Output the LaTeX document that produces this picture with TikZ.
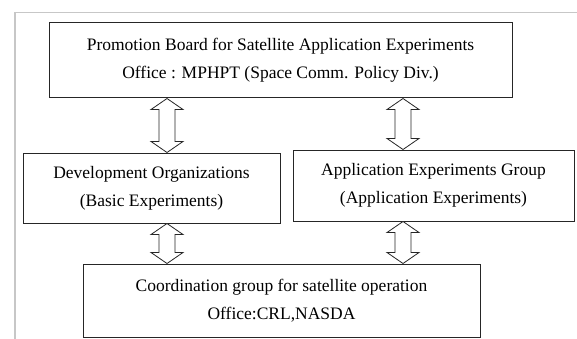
\documentclass[tikz,border=0pt]{standalone}
\usepackage{fontspec}
\setmainfont{Liberation Serif}
\usetikzlibrary{calc}

\tikzset{
  box/.style={draw=black!85, line width=1pt, align=center, inner sep=0pt,
    font=\fontsize{17.5}{28}\selectfont},
  blockarrow/.style={draw=black!85, line width=0.8pt, fill=white, line join=miter},
  frameline/.style={draw=black!22, line width=1.6pt}
}

% hollow double-headed block arrow between two named points on a common vertical
\newcommand\twowayarrow[2]{%
  \path[blockarrow] let \p1=(#1), \p2=(#2) in
    (\x1,\y1) -- (\x1+16pt,\y1-11pt) -- (\x1+8pt,\y1-11pt)
    -- (\x1+8pt,\y2+11pt) -- (\x1+16pt,\y2+11pt) -- (\x1,\y2)
    -- (\x1-16pt,\y2+11pt) -- (\x1-8pt,\y2+11pt)
    -- (\x1-8pt,\y1-11pt) -- (\x1-16pt,\y1-11pt) -- cycle;}

\begin{document}
\begin{tikzpicture}[x=1pt,y=-1pt]
  \useasboundingbox (0,0) rectangle (577,339);

  % outer page frame, partly visible
  \path[frameline] (577,12.5) -- (15,12.5) -- (15,339);

  \node[box, minimum width=463pt, minimum height=75pt] (board) at (280.5,60.5)
    {Promotion Board for Satellite Application Experiments\\
     Office : MPHPT (Space Comm. Policy Div.)};

  \node[box, minimum width=257pt, minimum height=70pt] (devorg) at (151.5,188)
    {Development Organizations\\(Basic Experiments)};

  \node[box, minimum width=281pt, minimum height=71pt] (appgrp) at (433.5,185.5)
    {Application Experiments Group\\(Application Experiments)};

  \node[box, minimum width=397pt, minimum height=73pt] (coord) at (281.5,300.5)
    {Coordination group for satellite operation\\Office:CRL,NASDA};

  % columns of the connecting arrows
  \coordinate (colL) at (167,0);
  \coordinate (colR) at (403,0);

  \coordinate (b1) at (board.south -| colL);
  \coordinate (d1) at (devorg.north -| colL);
  \coordinate (b2) at (board.south -| colR);
  \coordinate (a2) at (appgrp.north -| colR);
  \coordinate (d3) at (devorg.south -| colL);
  \coordinate (c3) at (coord.north -| colL);
  \coordinate (a4) at (appgrp.south -| colR);
  \coordinate (c4) at (coord.north -| colR);

  \twowayarrow{b1}{d1}
  \twowayarrow{b2}{a2}
  \twowayarrow{d3}{c3}
  \twowayarrow{a4}{c4}
\end{tikzpicture}
\end{document}
